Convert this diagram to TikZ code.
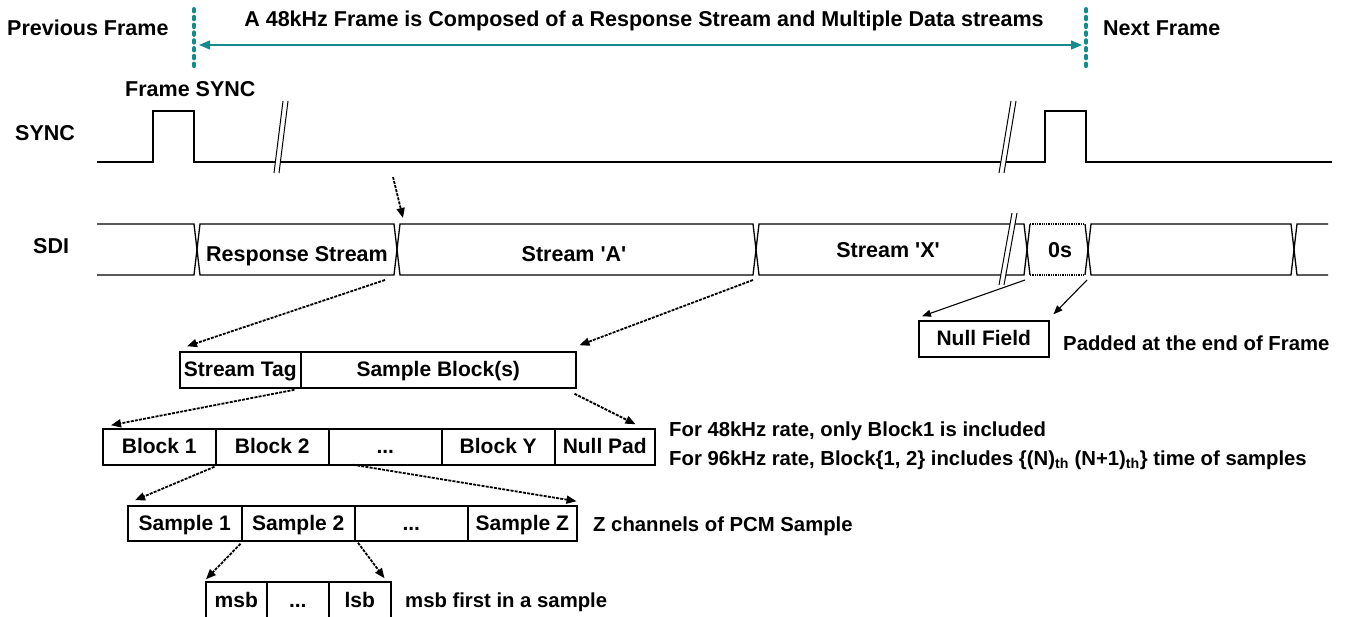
\documentclass[tikz,border=0pt]{standalone}
\usepackage{fontspec}
\setmainfont{Liberation Sans}
\usetikzlibrary{arrows.meta}
\definecolor{frameteal}{RGB}{20,140,140}
\tikzset{
	field/.style={draw,line width=1.5pt,minimum height=36pt,inner sep=0pt,text height=15.5pt,text depth=2.5pt,anchor=west,font=\fontsize{21}{24}\selectfont\bfseries},
	lbl/.style={inner sep=0pt,anchor=base west,font=\fontsize{21.5}{24}\selectfont\bfseries},
	note/.style={inner sep=0pt,anchor=base west,font=\fontsize{20.3}{24}\selectfont\bfseries},
	dashlink/.style={line width=1.8pt,dash pattern=on 3pt off 1.2pt,-{Triangle[length=10pt,width=8pt]}},
	solidlink/.style={line width=1.1pt,-{Triangle[length=9pt,width=7pt]}},
	wave/.style={line width=1.3pt},
	frameline/.style={frameteal,line width=4pt,line cap=round,dash pattern=on 2.5pt off 5.3pt},
}
\newcommand{\link}[2]{\draw[dashlink] (#1) -- (#2);}
\newcommand{\seg}[2]{\draw[wave] (#1+3,224) -- (#2-3,224) -- (#2,249.5) -- (#2-3,275) -- (#1+3,275) -- (#1,249.5) -- cycle;}
\newcommand{\brk}[4]{\fill[white] (#1,#3) -- (#1+5,#3) -- (#2+5,#4) -- (#2,#4) -- cycle;
	\draw[line width=1pt] (#1,#3) -- (#2,#4) (#1+5,#3) -- (#2+5,#4);}

\begin{document}
\begin{tikzpicture}[x=1pt,y=-1pt]
		\useasboundingbox (0,0) rectangle (1364,617);
		
		\draw[frameline] (194,9) -- (194,71);
		\draw[frameline] (1086,9) -- (1086,71);
		\coordinate (fl) at (199,45);
		\coordinate (fr) at (1082,45);
		\draw[frameteal,line width=1.3pt,{Triangle[length=11pt,width=9pt]}-{Triangle[length=11pt,width=9pt]}] (fl) -- (fr);
		\node[lbl] (prev) at (7,36) {Previous Frame};
		\node[lbl,anchor=base] (title) at (644,27) {A 48kHz Frame is Composed of a Response Stream and Multiple Data streams};
		\node[lbl] (next) at (1103,36) {Next Frame};
		
		\node[lbl] (fsync) at (125,97) {Frame SYNC};
		\node[lbl] (sync) at (15,141) {SYNC};
		\node[lbl] (sdi) at (33,254) {SDI};
		
		\draw[wave] (97,162) -- (153,162) -- (153,111) -- (194,111) -- (194,162) -- (1045,162) -- (1045,111) -- (1086,111) -- (1086,162) -- (1332,162);
		\brk{274}{283}{173}{101}
		\brk{999}{1011}{173}{101}
		
		\draw[wave] (97,224) -- (194,224) -- (197,249.5) -- (194,275) -- (97,275);
		\seg{197}{397}
		\seg{397}{756}
		\seg{756}{1027}
		\draw[wave] (1030,224) -- (1027,249.5) -- (1030,275) (1085,224) -- (1088,249.5) -- (1085,275);
		\draw[wave,densely dotted] (1030,224) -- (1085,224) (1030,275) -- (1085,275);
		\seg{1088}{1294}
		\draw[wave] (1328,224) -- (1297,224) -- (1294,249.5) -- (1297,275) -- (1328,275);
		\brk{999}{1012}{285}{213}
		\node[lbl,anchor=base] (resp) at (297,262) {Response Stream};
		\node[lbl,anchor=base] (sa) at (574,262) {Stream \textquotesingle A\textquotesingle};
		\node[lbl,anchor=base] (sx) at (888,258) {Stream \textquotesingle X\textquotesingle};
		\node[lbl,anchor=base] (zeros) at (1060,258) {0s};
		
		\node[field,minimum width=121pt] (tag) at (179,370) {Stream Tag};
		\node[field,minimum width=275pt] (blocks) at (300,370) {Sample Block(s)};
		
		\node[field,minimum width=113pt] (b1) at (102,447) {Block 1};
		\node[field,minimum width=113pt] (b2) at (215,447) {Block 2};
		\node[field,minimum width=113pt] (bdots) at (328,447) {...};
		\node[field,minimum width=113pt] (by) at (441,447) {Block Y};
		\node[field,minimum width=100pt] (pad) at (554,447) {Null Pad};
		\node[note] (rate48) at (669,436) {For 48kHz rate, only Block1 is included};
		\node[note] (rate96) at (669,465) {For 96kHz rate, Block\{1, 2\} includes \{(N)\textsubscript{th} (N+1)\textsubscript{th}\} time of samples};
		
		\node[field,minimum width=114pt,minimum height=35pt] (s1) at (127,523.5) {Sample 1};
		\node[field,minimum width=113pt,minimum height=35pt] (s2) at (241,523.5) {Sample 2};
		\node[field,minimum width=113pt,minimum height=35pt] (sdots) at (354,523.5) {...};
		\node[field,minimum width=109pt,minimum height=35pt] (sz) at (467,523.5) {Sample Z};
		\node[note] (zch) at (593,531) {Z channels of PCM Sample};
		
		\node[field,minimum width=61pt,minimum height=38pt] (msb) at (205,601) {msb};
		\node[field,minimum width=62pt,minimum height=38pt] (bdots2) at (266,601) {...};
		\node[field,minimum width=62pt,minimum height=38pt] (lsb) at (328,601) {lsb};
		\node[note] (first) at (405,607) {msb first in a sample};
		
		\node[field,minimum width=130pt] (null) at (918,339) {Null Field};
		\node[note] (padded) at (1063,350) {Padded at the end of Frame};
		
		\coordinate (hint) at (393,177);
		\coordinate (atop) at (403,218);
		\coordinate (rsbot) at (385,280);
		\coordinate (sabot) at (753,280);
		\coordinate (sxbot) at (1025,280);
		\coordinate (zbot) at (1087,280);
		
		\link{hint}{atop}
		\link{rsbot}{[shift={(8,-5)}]tag.north west}
		\link{sabot}{[shift={(3,-6)}]blocks.north east}
		\link{[shift={(-7,1)}]tag.south east}{[shift={(9,-3)}]b1.north west}
		\link{[shift={(-2,5)}]blocks.south east}{[shift={(-20,-4)}]pad.north east}
		\link{[shift={(-2,1)}]b1.south east}{[shift={(8,-5)}]s1.north west}
		\link{[shift={(25,-1)}]bdots.south west}{[shift={(-1,-4)}]sz.north east}
		\link{[shift={(-2,2)}]s1.south east}{[shift={(1,-2)}]msb.north west}
		\link{[shift={(4,1)}]sdots.south west}{[shift={(-7,-3)}]lsb.north east}
		\draw[solidlink] (sxbot) -- ([shift={(4,-4)}]null.north west);
		\draw[solidlink] (zbot) -- ([shift={(4,-6)}]null.north east);
	\end{tikzpicture}
\end{document}
